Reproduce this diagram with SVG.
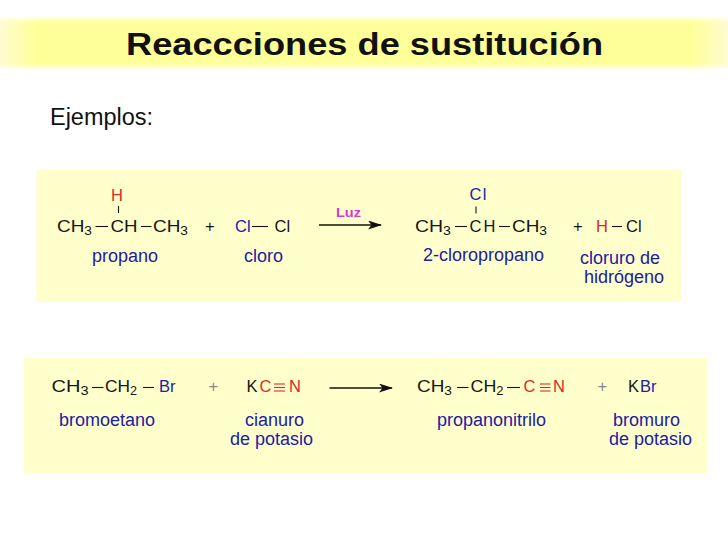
<svg xmlns="http://www.w3.org/2000/svg" width="728" height="546" viewBox="0 0 728 546">
<defs>
<style>
text{font-family:"Liberation Sans",Arial,Helvetica,sans-serif;}
.t{font-size:32px;font-weight:bold;fill:#111}
.ej{font-size:23px;fill:#111}
.f{font-size:16.5px;fill:#151515}
.s{font-size:12px}
.l{font-size:18px;fill:#2020a4}
.b{fill:#2020a4}
.r{fill:#e02828}
.g{fill:#888}
.luz{font-size:12px;font-weight:bold;fill:#d936d0}
.bd{stroke:#151515;stroke-width:1.1}
.bdr{stroke:#e02828;stroke-width:1.1}
.box{fill:#ffffcc}
.arr{stroke:#111;stroke-width:1.3;fill:none}
</style>
<linearGradient id="band" x1="0" x2="1" y1="0" y2="0">
<stop offset="0" stop-color="#fffbe0"/>
<stop offset="0.06" stop-color="#ffff9a"/>
<stop offset="0.94" stop-color="#ffff9a"/>
<stop offset="1" stop-color="#fffbe0"/>
</linearGradient>
<filter id="soft" x="-5%" y="-30%" width="110%" height="160%">
<feGaussianBlur stdDeviation="2.5"/>
</filter>
<marker id="ah" viewBox="0 0 14 9" refX="13" refY="4.5" markerWidth="14" markerHeight="9" markerUnits="userSpaceOnUse" orient="auto">
<path d="M0,0 L14,4.5 L0,9 L3.5,4.5 z" fill="#111"/>
</marker>
</defs>
<rect width="728" height="546" fill="#fff"/>
<g id="title">
<rect x="-10" y="19" width="748" height="48" fill="url(#band)" filter="url(#soft)"/>
<text class="t" x="126" y="55" textLength="477" lengthAdjust="spacingAndGlyphs">Reaccciones de sustitución</text>
</g>
<g id="ejemplos">
<text class="ej" x="50" y="125" textLength="103" lengthAdjust="spacingAndGlyphs">Ejemplos:</text>
</g>
<rect class="box" x="36.5" y="170" width="645" height="132"/>
<rect class="box" x="24" y="358" width="683" height="115"/>

<g id="propano">
<text class="f" x="57" y="232" textLength="35" lengthAdjust="spacingAndGlyphs">CH<tspan class="s" dy="3">3</tspan></text>
<line class="bd" x1="95.5" y1="226.5" x2="108" y2="226.5"/>
<text class="f" x="110.5" y="232" textLength="27" lengthAdjust="spacingAndGlyphs">CH</text>
<line class="bd" x1="141" y1="226.5" x2="151.5" y2="226.5"/>
<text class="f" x="153" y="232" textLength="35" lengthAdjust="spacingAndGlyphs">CH<tspan class="s" dy="3">3</tspan></text>
<text class="f r" x="111" y="200.5">H</text>
<line class="bd" x1="118.5" y1="206" x2="118.5" y2="213"/>
<text class="l" x="92" y="262">propano</text>
</g>
<g id="plus1"><text class="f" x="205" y="232">+</text></g>
<g id="cloro">
<text class="f b" x="235" y="232">Cl</text>
<line class="bd" x1="252" y1="226.5" x2="268" y2="226.5"/>
<text class="f" x="274.5" y="232">Cl</text>
<text class="l" x="244" y="262">cloro</text>
</g>
<g id="cloropropano">
<text class="f" x="415" y="232" textLength="36" lengthAdjust="spacingAndGlyphs">CH<tspan class="s" dy="3">3</tspan></text>
<line class="bd" x1="455" y1="226.5" x2="467" y2="226.5"/>
<text class="f" x="469.5" y="232">C</text>
<text class="f" x="483.5" y="232">H</text>
<line class="bd" x1="499" y1="226.5" x2="510" y2="226.5"/>
<text class="f" x="512" y="232" textLength="35" lengthAdjust="spacingAndGlyphs">CH<tspan class="s" dy="3">3</tspan></text>
<text class="f b" x="469.5" y="200" textLength="17">Cl</text>
<line class="bd" x1="476" y1="206.5" x2="476" y2="213.5"/>
<text class="l" x="423" y="261">2-cloropropano</text>
</g>
<g id="plus2"><text class="f" x="573" y="232">+</text></g>
<g id="hcl">
<text class="f r" x="596" y="232">H</text>
<line class="bd" x1="612" y1="226.5" x2="622" y2="226.5"/>
<text class="f" x="626" y="232">Cl</text>
<text class="l" x="580" y="264">cloruro de</text>
<text class="l" x="584" y="283">hidrógeno</text>
</g>

<g id="bromoetano">
<text class="f" x="51.5" y="392" textLength="37" lengthAdjust="spacingAndGlyphs">CH<tspan class="s" dy="3">3</tspan></text>
<line class="bd" x1="92" y1="387.5" x2="103.5" y2="387.5"/>
<text class="f" x="105" y="392" textLength="32" lengthAdjust="spacingAndGlyphs">CH<tspan class="s" dy="3">2</tspan></text>
<line class="bd" x1="143" y1="387.5" x2="154" y2="387.5"/>
<text class="f b" x="159" y="392">Br</text>
<text class="l" x="59" y="426">bromoetano</text>
</g>
<g id="plus3"><text class="f g" x="208.5" y="392">+</text></g>
<g id="kcn">
<text class="f" x="246.5" y="392">K</text>
<text class="f r" x="259.5" y="392">C</text>
<line class="bdr" x1="274" y1="384" x2="285" y2="384"/>
<line class="bdr" x1="274" y1="387.5" x2="285" y2="387.5"/>
<line class="bdr" x1="274" y1="391" x2="285" y2="391"/>
<text class="f r" x="289" y="392">N</text>
<text class="l" x="245" y="426">cianuro</text>
<text class="l" x="230" y="445">de potasio</text>
</g>
<g id="propanonitrilo">
<text class="f" x="417" y="392" textLength="35" lengthAdjust="spacingAndGlyphs">CH<tspan class="s" dy="3">3</tspan></text>
<line class="bd" x1="457" y1="387.5" x2="468.5" y2="387.5"/>
<text class="f" x="470.5" y="392" textLength="33" lengthAdjust="spacingAndGlyphs">CH<tspan class="s" dy="3">2</tspan></text>
<line class="bd" x1="507" y1="387.5" x2="520" y2="387.5"/>
<text class="f r" x="523.5" y="392">C</text>
<line class="bdr" x1="540" y1="384" x2="550.5" y2="384"/>
<line class="bdr" x1="540" y1="387.5" x2="550.5" y2="387.5"/>
<line class="bdr" x1="540" y1="391" x2="550.5" y2="391"/>
<text class="f r" x="553" y="392">N</text>
<text class="l" x="437" y="426">propanonitrilo</text>
</g>
<g id="plus4"><text class="f g" x="597.5" y="392">+</text></g>
<g id="kbr">
<text class="f" x="628" y="392">K</text>
<text class="f b" x="640" y="392">Br</text>
<text class="l" x="613" y="426">bromuro</text>
<text class="l" x="609" y="445">de potasio</text>
</g>

<g id="connectors">
<line class="arr" x1="319" y1="225" x2="381" y2="225" marker-end="url(#ah)"/>
<text class="luz" x="336" y="216.5" textLength="25" lengthAdjust="spacingAndGlyphs">Luz</text>
<line class="arr" x1="329.5" y1="388" x2="392" y2="388" marker-end="url(#ah)"/>
</g>
</svg>
